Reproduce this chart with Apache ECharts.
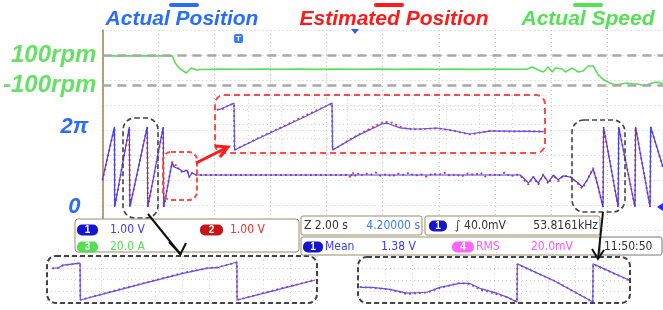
<!DOCTYPE html>
<html lang="en">
<head>
<meta charset="UTF-8">
<style>
html, body { height: 100%; margin: 0; background: #fff; }
</style>
</head>
<body>
<div id="chart" style="width:663px;height:310px;"></div>
<script src="https://cdn.jsdelivr.net/npm/echarts@6/dist/echarts.min.js"></script>
<script>
// time in s (2 s/div), position in electrical revolutions (1 = 2pi), speed in rpm
var speedData = [[0,93],[0.3,96],[0.6,92],[0.9,95],[1.2,93],[1.5,96],[1.8,92],[2.1,95],[2.4,93],[2.49,94],
  [2.60,47],[2.74,13],[2.99,-20],[3.17,13],[3.35,0],[3.52,3],
  [4.2,6],[4.9,5],[5.6,7],[6.3,5],[7.0,6],[7.7,4],[8.4,7],[9.1,5],[9.8,6],[10.5,4],[11.2,7],[11.9,5],[12.6,6],[13.3,4],[14.0,7],[14.7,5],[15.16,6],
  [15.34,20],[15.55,0],[15.73,-13],[15.91,20],[16.05,-13],[16.16,13],[16.41,7],[16.51,-13],[16.76,13],[16.98,-13],[17.15,-7],[17.33,27],[17.51,27],
  [17.69,-33],[17.90,-67],[18.11,-87],[18.29,-100],[18.51,-93],[18.72,-87],[18.90,-93],[19.07,-93],[19.25,-100],[19.43,-100],[19.61,-87],[19.79,-80],[20,-93]];

var posActual = [[0,0.34],[0.43,1],[0.44,0],[0.96,1],[0.98,0],[1.60,1],[1.62,0],[2.17,1],[2.19,0],
  [2.49,0.56],[2.56,0.5],[2.63,0.525],[2.74,0.475],[2.88,0.44],[3.02,0.46],[3.10,0.375],[3.20,0.425],[3.35,0.4],
  [14.91,0.4],[15.20,0.3],[15.37,0.375],[15.55,0.3],[15.73,0.4],[15.91,0.31],[16.09,0.4],[16.26,0.34],[16.44,0.39],
  [16.69,0.375],[16.94,0.31],[17.12,0.25],[17.30,0.34],[17.51,0.475],[17.69,0.25],[17.86,0],[17.88,1],[18.40,0],
  [18.42,1],[19.00,0],[19.02,1],[19.54,0],[19.56,1],[20,0.5]];

var posEstimated = [[0,0.33],[0.43,0.99],[0.44,0],[0.96,0.99],[0.98,0],[1.60,1],[1.62,0],[2.17,0.99],[2.19,0],
  [2.49,0.57],[2.56,0.49],[2.63,0.53],[2.74,0.46],[2.88,0.43],[3.02,0.47],[3.10,0.37],[3.20,0.43],[3.35,0.4],
  [8.80,0.40],[8.86,0.36],[8.92,0.44],[9.00,0.38],[9.08,0.43],[9.20,0.39],[9.38,0.42],[9.55,0.40],[9.75,0.43],[9.92,0.39],
  [10.15,0.41],[10.33,0.38],[10.52,0.42],[10.70,0.40],[10.95,0.43],[11.12,0.39],[11.36,0.41],[11.55,0.38],[11.78,0.42],
  [11.96,0.40],[12.20,0.43],[12.41,0.39],[12.63,0.41],[12.80,0.38],[13.05,0.42],[13.27,0.40],[13.48,0.43],[13.66,0.38],
  [13.90,0.41],[14.12,0.39],[14.35,0.43],[14.56,0.38],[14.75,0.41],[14.91,0.39],
  [15.20,0.28],[15.37,0.38],[15.55,0.28],[15.73,0.41],[15.91,0.29],[16.09,0.4],[16.26,0.32],[16.44,0.39],[16.69,0.38],
  [16.94,0.3],[17.12,0.23],[17.30,0.34],[17.51,0.49],[17.69,0.24],[17.86,0],[17.88,1],[18.40,0],[18.42,1],[19.00,0],
  [19.02,1],[19.54,0],[19.56,1],[20,0.49]];

// zoomed views
var midActual = [[1.50,0.85],[1.52,0.87],[1.55,0.915],[1.60,1],[1.603,0],[1.75,0.26],[1.885,0.49],[2.03,0.74],[2.17,1],[2.173,0],
  [2.315,0.3],[2.46,0.553],[2.49,0.57],[2.565,0.47],[2.62,0.45],[2.68,0.447],[2.78,0.468],[2.856,0.426],[2.97,0.34],
  [3.09,0.40],[3.20,0.40],[3.40,0.39]];
var midEstimated = [[1.50,0.86],[1.53,0.87],[1.56,0.93],[1.60,0.99],[1.603,0],[1.75,0.27],[1.885,0.5],[2.03,0.76],[2.17,0.99],[2.173,0],
  [2.315,0.31],[2.43,0.53],[2.47,0.6],[2.52,0.58],[2.58,0.47],[2.66,0.44],[2.78,0.46],[2.86,0.42],[2.97,0.33],
  [3.09,0.41],[3.20,0.39],[3.30,0.40],[3.40,0.39]];

var leftActual = [[0.866,0.842],[0.89,0.842],[0.91,0.92],[0.98,0.97],[0.981,0],[1.10,0.2],[1.26,0.47],[1.40,0.7],[1.50,0.84],
  [1.54,0.85],[1.62,1],[1.621,0],[1.78,0.26],[1.939,0.526]];
var leftEstimated = [[0.866,0.83],[0.89,0.84],[0.91,0.91],[0.98,0.97],[0.981,0],[1.10,0.21],[1.26,0.48],[1.40,0.71],[1.50,0.84],
  [1.54,0.86],[1.62,0.99],[1.621,0],[1.78,0.27],[1.939,0.53]];

var rightActual = [[16.76,0.385],[16.85,0.385],[16.97,0.333],[17.09,0.231],[17.23,0.256],[17.32,0.385],[17.46,0.487],[17.53,0.487],
  [17.60,0.359],[17.72,0.231],[17.79,0.128],[17.86,0],[17.862,1],[18.13,0.538],[18.39,0],[18.392,1],[18.65,0.564]];
var rightEstimated = [[16.76,0.39],[16.85,0.37],[16.97,0.33],[17.09,0.21],[17.23,0.25],[17.32,0.37],[17.46,0.5],[17.53,0.47],
  [17.60,0.33],[17.72,0.2],[17.79,0.13],[17.86,0],[17.862,0.99],[18.13,0.54],[18.39,0],[18.392,0.99],[18.65,0.56]];

var speedTicks = [100, -100];
var posTicks = [0, 1];

var BLUE = '#3a3aff', RED = '#ff2a2a', GREEN = '#55e055', TBLUE = '#2a6cff';
var TITLE_FONT = 'bold italic 21px "Liberation Sans", Arial, sans-serif';
var BOX_FONT = '12px "Liberation Sans Narrow", "DejaVu Sans Condensed", sans-serif';

function dotted(c) {
    return { show: true, lineStyle: { color: c || '#c4c4c4', type: [1, 3], width: 1 } };
}
function plainAxis(grid, min, max, extra) {
    var a = { gridIndex: grid, type: 'value', min: min, max: max,
        axisLine: { show: false }, axisTick: { show: false }, axisLabel: { show: false }, splitLine: { show: false } };
    for (var k in extra) a[k] = extra[k];
    return a;
}
function line(name, data, xi, yi, color, w, z, dash) {
    return { name: name, type: 'line', data: data, xAxisIndex: xi, yAxisIndex: yi, showSymbol: false,
        lineStyle: { color: color, width: w, type: dash || 'solid' }, z: z, silent: true };
}

var G = [];
function txt(x, y, s, color, font, align, z) {
    G.push({ type: 'text', x: x, y: y, z: z || 100, style: { text: s, fill: color, font: font || BOX_FONT,
        align: align || 'left', verticalAlign: 'middle' } });
}
function rbox(x, y, w, h, r, stroke, lw, dash, fill) {
    G.push({ type: 'rect', z: 100, shape: { x: x, y: y, width: w, height: h, r: r },
        style: { fill: fill || 'none', stroke: stroke, lineWidth: lw, lineDash: dash || null } });
}
function pill(x, y, w, label, color) {
    G.push({ type: 'rect', z: 101, shape: { x: x, y: y, width: w, height: 11, r: 5 }, style: { fill: color } });
    txt(x + w / 2, y + 5.5, label, '#fff', 'bold 10px "Liberation Sans", sans-serif', 'center', 102);
}
function seg(pts, color, lw) {
    G.push({ type: 'polyline', z: 103, shape: { points: pts }, style: { stroke: color, lineWidth: lw, fill: 'none' } });
}

// titles with colour bars
[['Actual Position', 182, TBLUE, 169], ['Estimated Position', 394, '#ff1a1a', 374], ['Actual Speed', 588, GREEN, 573]].forEach(function (t) {
    txt(t[1], 19, t[0], t[2], TITLE_FONT, 'center');
    G.push({ type: 'rect', z: 100, shape: { x: t[3], y: 3, width: 30, height: 4, r: 2 }, style: { fill: t[2] } });
});

// annotations
rbox(215, 95, 330, 58, 9, '#ff4a4a', 2, [6, 4]);
rbox(163, 152, 34, 48, 8, '#ff4a4a', 2, [5, 3]);
rbox(123, 118, 35, 100, 12, '#444', 1.6, [5, 3]);
rbox(572, 120, 53, 92, 12, '#444', 1.6, [5, 3]);
rbox(47, 256, 270, 47, 9, '#444', 2, [5, 3]);
rbox(358, 257, 272, 46, 9, '#444', 2, [5, 3]);

// info boxes
rbox(75, 219, 224, 33, 3, '#9a8a6a', 1, null, '#fff');
pill(77, 224.5, 21, '1', '#1515d0'); txt(110, 230, '1.00 V', BLUE);
pill(200, 224.5, 23, '2', '#c81414'); txt(230, 230, '1.00 V', RED);
pill(77, 241.5, 21, '3', '#55dd55'); txt(110, 247, '20.0 A', GREEN);
rbox(301, 216, 121, 19, 2, '#9a8a6a', 1, null, '#fff');
txt(304, 226, 'Z 2.00 s', '#333'); txt(420, 226, '4.20000 s', '#3a7aff', null, 'right');
rbox(425, 216, 175, 19, 2, '#9a8a6a', 1, null, '#fff');
pill(429, 220.5, 18, '1', '#1515d0'); txt(455, 226, '\u222B 40.0mV', '#333'); txt(598, 226, '53.8161kHz', '#333', null, 'right');
rbox(301, 237, 299, 18, 2, '#9a8a6a', 1, null, '#fff');
pill(303, 241.5, 20, '1', '#1515d0'); txt(325, 247, 'Mean', BLUE); txt(381, 247, '1.38 V', BLUE);
pill(452, 241.5, 22, '4', '#ff66ff'); txt(476, 247, 'RMS', '#ff55ff'); txt(531, 247, '20.0mV', '#ff55ff');
rbox(600, 237, 62, 18, 2, '#777', 1, null, '#fff');
txt(604, 247, '11:50:50', '#333');

// arrows
seg([[148, 214], [181, 255]], '#111', 2);
seg([[169, 242], [180.5, 254], [186, 243]], '#111', 2);
seg([[603, 212], [598, 259]], '#111', 2);
seg([[592, 249], [598, 259], [604, 250]], '#111', 2);
seg([[196, 163], [226, 148]], '#ff1a1a', 3);
seg([[215, 146], [228, 147], [220, 157]], '#ff1a1a', 3);

// scope markers
G.push({ type: 'rect', z: 100, shape: { x: 234, y: 34, width: 9, height: 9, r: 2 }, style: { fill: '#3a7aff' } });
txt(238.5, 38.5, 'T', '#fff', 'bold 8px "Liberation Sans", sans-serif', 'center', 101);
G.push({ type: 'polygon', z: 100, shape: { points: [[351, 29], [359, 29], [355, 34]] }, style: { fill: '#2a5aff' } });
G.push({ type: 'polygon', z: 100, shape: { points: [[663, 203], [663, 211], [657, 207]] }, style: { fill: '#2a2aff' } });

var chart = echarts.init(document.getElementById('chart'));
chart.setOption({
    animation: false,
    grid: [
        { left: 101, top: 30, width: 562, height: 200 },
        { left: 215, top: 95, width: 330, height: 58 },
        { left: 47, top: 256, width: 270, height: 47 },
        { left: 358, top: 257, width: 272, height: 46 }
    ],
    xAxis: [
        plainAxis(0, 0, 20, { interval: 2, splitLine: dotted() }),
        plainAxis(1, 1.4895, 3.408),
        plainAxis(1, 0, 10, { interval: 1, splitLine: dotted('#d4d4d4') }),
        plainAxis(2, 0.845, 1.947),
        plainAxis(2, 0, 10, { interval: 1, splitLine: dotted('#d0d0d0') }),
        plainAxis(3, 16.748, 18.65),
        plainAxis(3, 0, 10, { interval: 1, splitLine: dotted('#d0d0d0') })
    ],
    yAxis: [
        plainAxis(0, -0.2875, 2.2125, { position: 'left', axisLabel: { show: true, customValues: posTicks, margin: 28, align: 'center',
            formatter: function (v) { return v === 0 ? '0' : '2\u03C0'; },
            color: TBLUE, fontSize: 22, fontWeight: 'bold', fontStyle: 'italic', fontFamily: 'Liberation Sans' } }),
        plainAxis(0, -1066.7, 266.7, { position: 'left', offset: 0, axisLabel: { show: true, customValues: speedTicks, margin: 6, align: 'right',
            formatter: function (v) { return v + 'rpm'; },
            color: '#66e066', fontSize: 24, fontWeight: 'bold', fontStyle: 'italic', fontFamily: 'Liberation Sans' } }),
        plainAxis(0, 0, 8, { position: 'left', offset: 0, interval: 1, splitLine: dotted(),
            axisLine: { show: true, lineStyle: { color: '#a08050', width: 1.5 } } }),
        plainAxis(1, -0.064, 1.17),
        plainAxis(1, 0, 4, { interval: 1, splitLine: dotted('#d4d4d4') }),
        plainAxis(2, -0.079, 1.158),
        plainAxis(2, 0, 4, { interval: 1, splitLine: dotted('#d0d0d0') }),
        plainAxis(3, -0.026, 1.18),
        plainAxis(3, 0, 4, { interval: 1, splitLine: dotted('#d0d0d0') })
    ],
    series: [
        (function () {
            var s = line('Actual Speed', speedData, 0, 1, GREEN, 1.6, 4);
            s.markLine = { silent: true, symbol: 'none', label: { show: false },
                lineStyle: { color: '#a8a8a8', width: 2.5, type: [9, 6] },
                data: speedTicks.map(function (v) { return { yAxis: v }; }) };
            return s;
        })(),
        line('Estimated Position', posEstimated, 0, 0, RED, 1.8, 3, [2, 3]),
        line('Actual Position', posActual, 0, 0, '#4040ff', 1.2, 4),
        line('Estimated (zoom)', midEstimated, 1, 3, RED, 1.8, 3, [2, 3]),
        line('Actual (zoom)', midActual, 1, 3, '#5555ff', 1.2, 4),
        line('Estimated (zoom L)', leftEstimated, 3, 5, RED, 1.8, 3, [2, 3]),
        line('Actual (zoom L)', leftActual, 3, 5, '#5555ff', 1.2, 4),
        line('Estimated (zoom R)', rightEstimated, 5, 7, RED, 1.8, 3, [2, 3]),
        line('Actual (zoom R)', rightActual, 5, 7, '#5555ff', 1.2, 4)
    ],
    graphic: { elements: G }
});
</script>
</body>
</html>
